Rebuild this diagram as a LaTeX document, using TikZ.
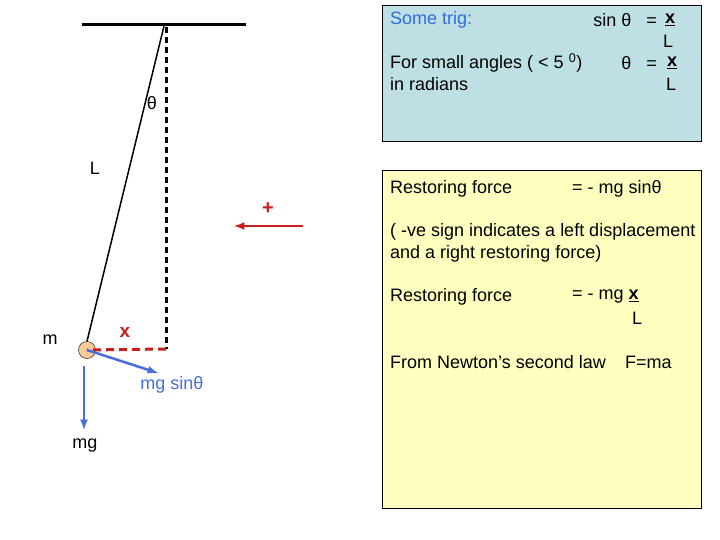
\documentclass[tikz,border=0pt]{standalone}
\usepackage{fontspec}
\setmainfont{Liberation Sans}
\begin{document}
\begin{tikzpicture}[x=1pt,y=-1pt,
 txt/.style={anchor=west,inner sep=0pt,font=\fontsize{18}{21}\selectfont},
 ctr/.style={inner sep=0pt,font=\fontsize{18}{21}\selectfont},
 force/.style={line width=2.5pt,-latex}]
\definecolor{tb}{RGB}{190,224,228}
\definecolor{yb}{RGB}{255,255,192}
\definecolor{bt}{RGB}{45,110,215}
\definecolor{fb}{RGB}{70,110,220}
\definecolor{rd}{RGB}{200,30,30}
\useasboundingbox (0,0) rectangle (720,540);
\fill[white] (0,0) rectangle (720,540);
% boxes
\draw[fill=tb,line width=0.8pt] (382,5) rectangle (701,141);
\draw[fill=yb,line width=0.8pt] (382,170) rectangle (701,508);
% pendulum
\coordinate (c1) at (82,25); \coordinate (c2) at (246,25);
\draw[line width=3pt] (c1) -- (c2);
\coordinate (piv) at (164,26);
\coordinate (vb) at (166,349);
\coordinate (vt) at (166,27);
\node[circle,draw,fill=orange!40,minimum size=17pt,inner sep=0pt] (bob) at (87,350) {};
\draw[line width=1.5pt] (piv) -- (bob.north);
\draw[line width=3pt,dash pattern=on 6pt off 4pt] (vt) -- (vb);
\draw[line width=3pt,rd,dash pattern=on 8pt off 5pt] (vb) -- (bob.center);
\coordinate (g1) at (84,366); \coordinate (g2) at (84,430);
\draw[force,draw=fb] (g1) -- (g2);
\coordinate (s2) at (158,373);
\draw[force,draw=fb] (bob.center) -- (s2);
\coordinate (r1) at (303,226); \coordinate (r2) at (234,226);
\draw[rd,line width=2.5pt,-latex] (r1) -- (r2);
\node[ctr,text=rd,font=\fontsize{20}{22}\selectfont\bfseries] (plus) at (268,209) {+};
\node[ctr] (th) at (152,103) {θ};
\node[ctr] (L) at (95,168) {L};
\node[ctr] (m) at (50,340) {m};
\node[ctr,text=rd,font=\fontsize{19}{21}\selectfont\bfseries] (xl) at (125,332) {x};
\node[ctr,text=fb] (mgs) at (172,385) {mg sinθ};
\node[ctr] (mg) at (85,446) {mg};
% top box text
\node[txt,text=bt] (t1) at (390,20) {Some trig:};
\node[ctr,anchor=east] (t2) at (657,20) {sin θ \ \ =};
\node[ctr] (t3) at (670,20) {\underline{\textbf{x}}};
\node[ctr] (t4) at (668,41) {L};
\node[txt] (t5) at (390,63) {For small angles ( < 5 \textsuperscript{0})};
\node[txt] (t6) at (390,84) {in radians};
\node[ctr,anchor=east] (t7) at (657,63) {θ \ \ =};
\node[ctr] (t8) at (672,63) {\underline{\textbf{x}}};
\node[ctr] (t9) at (671,84) {L};
% yellow box text
\node[txt] (y1) at (390,189) {Restoring force};
\node[txt] (y2) at (572,189) {= - mg sinθ};
\node[txt] (y3) at (390,232) {( -ve sign indicates a left displacement};
\node[txt] (y4) at (390,254) {and a right restoring force)};
\node[txt] (y5) at (390,297) {Restoring force};
\node[txt] (y6) at (572,297) {= - mg \underline{\textbf{x}}};
\node[ctr] (y7) at (637,318) {L};
\node[txt] (y8) at (390,362) {From Newton’s second law};
\node[txt] (y9) at (625,362) {F=ma};
\end{tikzpicture}
\end{document}
